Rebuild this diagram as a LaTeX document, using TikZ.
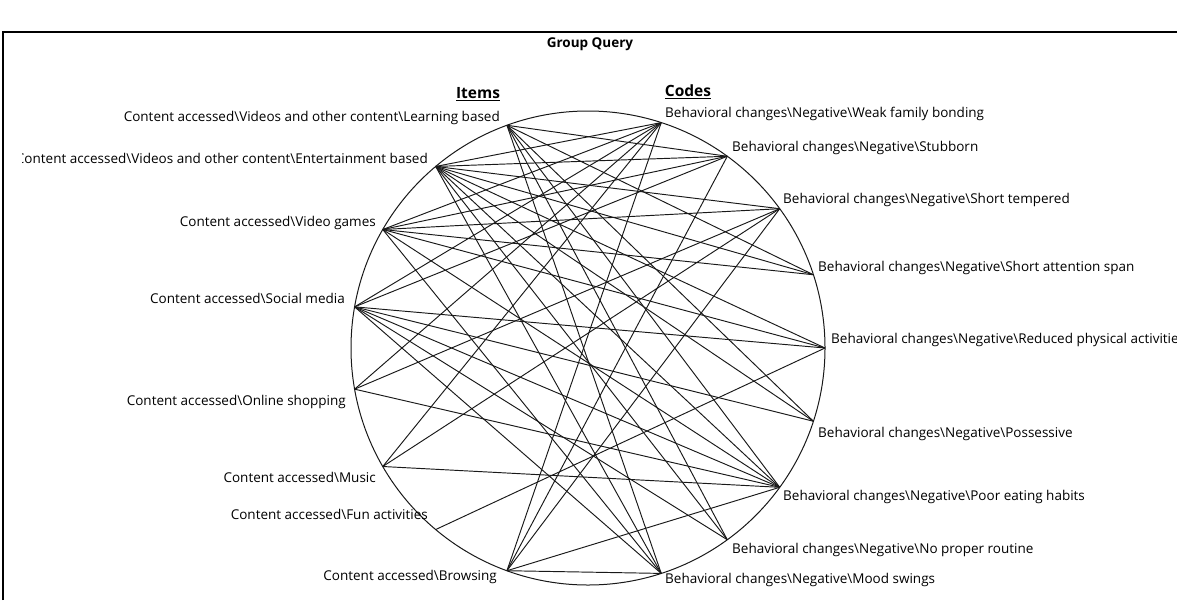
\documentclass[tikz,border=0pt]{standalone}
\usepackage{fontspec}
\setmainfont{Open Sans}
\tikzset{
  rim/.style={draw=black!90,line width=1pt},
  link/.style={draw=black!90,line width=0.95pt},
  frameline/.style={draw=black,line width=1.3pt},
  itemlabel/.style={anchor=east,inner sep=0pt,font=\fontsize{13.5}{15}\selectfont},
  codelabel/.style={anchor=west,inner sep=0pt,font=\fontsize{13.5}{15}\selectfont},
  headlabel/.style={inner sep=0pt,font=\fontsize{15.5}{17}\selectfont\bfseries}
}
\newcommand{\bs}{\textbackslash}

\begin{document}
\begin{tikzpicture}[x=1pt,y=-1pt]
  \useasboundingbox (0,0) rectangle (1177,600);
  %% frame
  \draw[frameline] (3,600) -- (3,32) -- (1177,32);

  %% headings
  \node[headlabel,font=\fontsize{13.5}{15}\selectfont\bfseries] (title) at (590,44) {Group Query};
  \node[headlabel] (hitems) at (478,94) {\underline{Items}};
  \node[headlabel] (hcodes) at (688,92) {\underline{Codes}};

  %% circle and its points
  \coordinate (ctr) at (588,348);
  \draw[rim] (ctr) circle[radius=237];
  \foreach \k in {1,...,8}
    \path (ctr) ++({-(110+20*(\k-1))}:237) coordinate (i\k);
  \foreach \k in {1,...,9}
    \path (ctr) ++({-(72-18*(\k-1))}:237) coordinate (c\k);

  %% item labels
  \begin{scope}
    \clip (22,0) rectangle (1177,600);
    \node[itemlabel] (li1) at (500,118) {Content accessed\bs Videos and other content\bs Learning based};
    \node[itemlabel] (li2) at (428,158) {Content accessed\bs Videos and other content\bs Entertainment based};
    \node[itemlabel] (li3) at (376,223) {Content accessed\bs Video games};
    \node[itemlabel] (li4) at (345,298) {Content accessed\bs Social media};
    \node[itemlabel] (li5) at (346,402) {Content accessed\bs Online shopping};
    \node[itemlabel] (li6) at (376,477) {Content accessed\bs Music};
    \node[itemlabel] (li7) at (428,514) {Content accessed\bs Fun activities};
    \node[itemlabel] (li8) at (497,577) {Content accessed\bs Browsing};
  \end{scope}

  %% code labels
  \node[codelabel] (lc1) at (665,114) {Behavioral changes\bs Negative\bs Weak family bonding};
  \node[codelabel] (lc2) at (732,148) {Behavioral changes\bs Negative\bs Stubborn};
  \node[codelabel] (lc3) at (783,200) {Behavioral changes\bs Negative\bs Short tempered};
  \node[codelabel] (lc4) at (818,268) {Behavioral changes\bs Negative\bs Short attention span};
  \node[codelabel] (lc5) at (831,340) {Behavioral changes\bs Negative\bs Reduced physical activities};
  \node[codelabel] (lc6) at (818,434) {Behavioral changes\bs Negative\bs Possessive};
  \node[codelabel] (lc7) at (783,497) {Behavioral changes\bs Negative\bs Poor eating habits};
  \node[codelabel] (lc8) at (732,550) {Behavioral changes\bs Negative\bs No proper routine};
  \node[codelabel] (lc9) at (665,580) {Behavioral changes\bs Negative\bs Mood swings};

  %% links item -> code
  \foreach \a/\b in {1/2,1/4,1/6,1/7,1/8,1/9,
                     2/1,2/2,2/3,2/4,2/5,2/6,2/7,2/8,2/9,
                     3/1,3/2,3/3,3/4,3/5,3/7,3/9,
                     4/1,4/2,4/5,4/6,4/7,4/8,4/9,
                     5/1,5/3,5/7,
                     6/1,6/3,6/7,
                     7/5,
                     8/1,8/2,8/3,8/7,8/9}
    \draw[link] (i\a) -- (c\b);
\end{tikzpicture}
\end{document}
